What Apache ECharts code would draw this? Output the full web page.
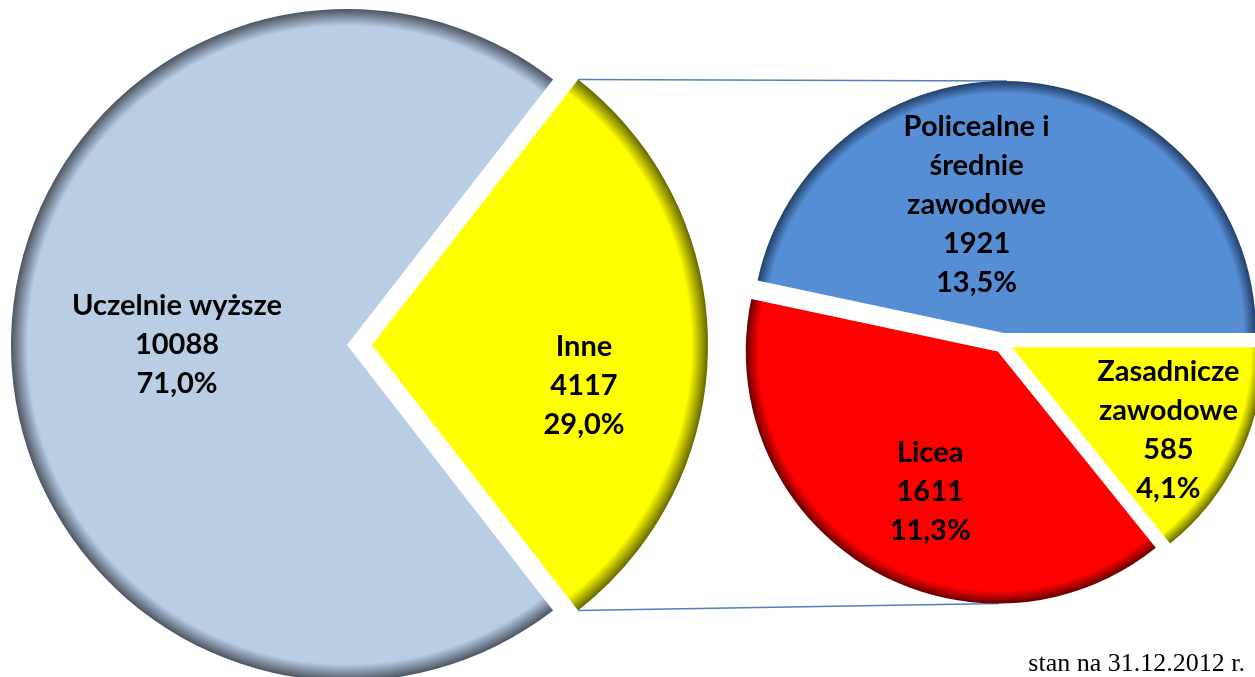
<!DOCTYPE html>
<html>
<head>
<meta charset="utf-8">
<script src="https://cdn.jsdelivr.net/npm/echarts@6/dist/echarts.min.js"></script>
<style>
  html, body { margin: 0; padding: 0; background: #fff; }
  #wykres { width: 1255px; height: 677px; }
</style>
</head>
<body>
<div id="wykres"></div>
<script>
// dane
var mainNames = ['Inne', 'Uczelnie wyższe']
var mainValues = [4117, 10088]
var subNames = ['Policealne i\nśrednie\nzawodowe', 'Licea', 'Zasadnicze\nzawodowe']
var subValues = [1921, 1611, 585]
var footNote = 'stan na 31.12.2012 r.'

// wyglad
var mainColors = [['#ffff00', '#666600'], ['#b9cde5', '#4a5462']]
var subColors = [['#558ed5', '#223f66'], ['#ff0000', '#660000'], ['#ffff00', '#666600']]
var mainCenter = [347, 345]
var mainR = 336
var mainOffset = 25
var subCenter = [1003, 343]
var subR = 252
var subOffset = 10
var mainLabelShift = [[41, 41], [1, 0]]
var subLabelShift = [[-41, 0], [0, 30], [40, 27]]

var total = mainValues.reduce(function (a, b) { return a + b }, 0)

function pct(v) {
  return (v / total * 100).toFixed(1).replace('.', ',') + '%'
}

function fill(c, center, r) {
  return {
    type: 'radial',
    x: center[0],
    y: center[1],
    r: r,
    global: true,
    colorStops: [
      { offset: 0, color: c[0] },
      { offset: 0.95, color: c[0] },
      { offset: 1, color: c[1] }
    ]
  }
}

var mainData = mainNames.map(function (n, i) {
  return {
    name: n,
    value: mainValues[i],
    selected: i === 0,
    itemStyle: { color: fill(mainColors[i], mainCenter, mainR) }
  }
})
var subData = subNames.map(function (n, i) {
  return {
    name: n,
    value: subValues[i],
    selected: true,
    itemStyle: { color: fill(subColors[i], subCenter, subR) }
  }
})

// Inne wycentrowane na osi poziomej
var inneHalf = mainValues[0] / total * 180

var labelStyle = {
  show: true,
  position: 'inside',
  color: '#000',
  fontFamily: 'Lato',
  fontWeight: 'bold',
  fontSize: 29,
  lineHeight: 39,
  formatter: function (p) {
    return p.name + '\n' + p.value + '\n' + pct(p.value)
  }
}

// linie laczace
var rad = inneHalf * Math.PI / 180
var tipX = mainCenter[0] + mainOffset + mainR * Math.cos(rad)
var tipTop = mainCenter[1] - mainR * Math.sin(rad)
var tipBot = mainCenter[1] + mainR * Math.sin(rad)
var subTop = subCenter[1] - subR - subOffset
var subBot = subCenter[1] + subR + subOffset * 0.85

var myChart = echarts.init(document.getElementById('wykres'))
var option = {
  animation: false,
  backgroundColor: '#fff',
  graphic: [
    {
      type: 'line',
      shape: { x1: tipX, y1: tipTop, x2: subCenter[0] + 4, y2: subTop },
      style: { stroke: '#4f81bd', lineWidth: 1.5 },
      z: 0
    },
    {
      type: 'line',
      shape: { x1: tipX, y1: tipBot, x2: subCenter[0] - 4, y2: subBot },
      style: { stroke: '#4f81bd', lineWidth: 1.5 },
      z: 0
    },
    {
      type: 'text',
      right: 10,
      bottom: 0,
      style: {
        text: footNote,
        font: '26px "Liberation Serif"',
        fill: '#000'
      }
    }
  ],
  series: [
    {
      type: 'pie',
      center: mainCenter,
      radius: mainR,
      startAngle: inneHalf,
      clockwise: true,
      selectedMode: 'multiple',
      selectedOffset: mainOffset,
      emphasis: { disabled: true },
      label: labelStyle,
      labelLine: { show: false },
      labelLayout: function (p) {
        return { dx: mainLabelShift[p.dataIndex][0], dy: mainLabelShift[p.dataIndex][1] }
      },
      data: mainData,
      z: 2
    },
    {
      type: 'pie',
      center: subCenter,
      radius: subR,
      startAngle: 0,
      clockwise: false,
      selectedMode: 'multiple',
      selectedOffset: subOffset,
      emphasis: { disabled: true },
      label: labelStyle,
      labelLine: { show: false },
      labelLayout: function (p) {
        return { dx: subLabelShift[p.dataIndex][0], dy: subLabelShift[p.dataIndex][1] }
      },
      data: subData,
      z: 2
    }
  ]
}
myChart.setOption(option)
</script>
</body>
</html>
